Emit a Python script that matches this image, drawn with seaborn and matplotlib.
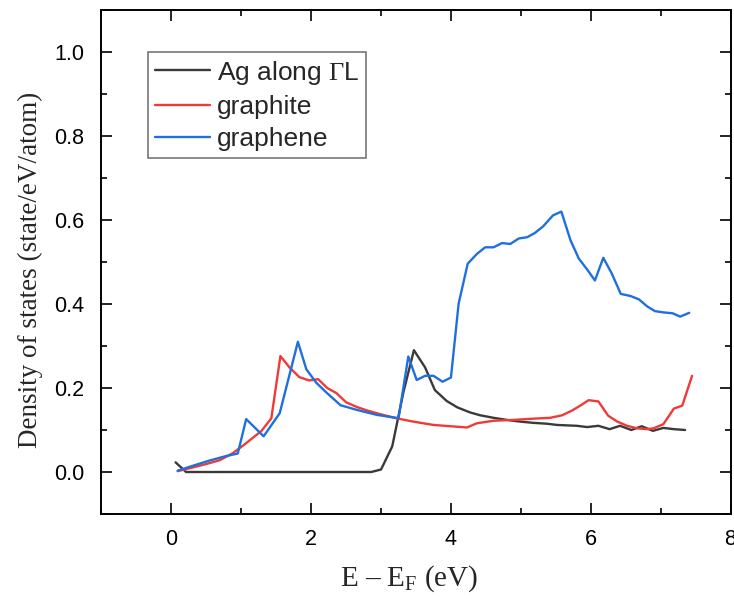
import matplotlib
matplotlib.use("Agg")
import matplotlib.pyplot as plt
import seaborn as sns
import pandas as pd
from matplotlib.ticker import MultipleLocator

ag_x = [0.06, 0.21, 0.5, 1.0, 1.5, 2.0, 2.5, 2.86, 3.0, 3.16, 3.32, 3.47, 3.63, 3.77, 3.94, 4.09,
        4.27, 4.42, 4.61, 4.80, 4.99, 5.18, 5.37, 5.52, 5.80, 5.95, 6.11, 6.27, 6.42, 6.58, 6.73,
        6.89, 7.04, 7.19, 7.35]
ag_y = [0.023, 0.0, 0.0, 0.0, 0.0, 0.0, 0.0, 0.0, 0.006, 0.061, 0.19, 0.29, 0.249, 0.195, 0.169, 0.154,
        0.142, 0.135, 0.129, 0.124, 0.120, 0.117, 0.115, 0.112, 0.110, 0.107, 0.110, 0.102, 0.110, 0.100, 0.109,
        0.098, 0.105, 0.102, 0.100]

graphite_x = [0.09, 0.31, 0.50, 0.69, 0.88, 1.05, 1.17, 1.29, 1.43, 1.56, 1.69, 1.83, 1.97, 2.10,
              2.23, 2.36, 2.50, 2.65, 2.79, 2.98, 3.22, 3.46, 3.75, 3.99, 4.23, 4.37, 4.61, 4.89,
              5.18, 5.42, 5.59, 5.73, 5.85, 5.97, 6.11, 6.25, 6.38, 6.52, 6.66, 6.81, 6.90, 7.04,
              7.19, 7.31, 7.45]
graphite_y = [0.002, 0.011, 0.019, 0.028, 0.045, 0.066, 0.082, 0.098, 0.128, 0.276, 0.249, 0.226, 0.218, 0.221,
              0.200, 0.188, 0.166, 0.155, 0.147, 0.138, 0.128, 0.120, 0.112, 0.109, 0.106, 0.116, 0.122, 0.124,
              0.127, 0.129, 0.135, 0.146, 0.158, 0.171, 0.168, 0.134, 0.120, 0.110, 0.104, 0.102, 0.104, 0.114,
              0.151, 0.158, 0.229]

graphene_x = [0.09, 0.31, 0.54, 0.76, 0.95, 1.07, 1.32, 1.55, 1.81, 1.93, 2.07, 2.22, 2.42, 2.65,
              2.94, 3.25, 3.39, 3.51, 3.63, 3.75, 3.88, 4.00, 4.11, 4.24, 4.37, 4.49, 4.61, 4.73,
              4.85, 4.97, 5.09, 5.20, 5.32, 5.46, 5.58, 5.71, 5.83, 5.95, 6.06, 6.18, 6.30, 6.43,
              6.57, 6.69, 6.81, 6.92, 7.04, 7.17, 7.28, 7.41]
graphene_y = [0.003, 0.015, 0.027, 0.037, 0.044, 0.126, 0.085, 0.140, 0.310, 0.245, 0.213, 0.189, 0.159, 0.148,
              0.136, 0.128, 0.275, 0.219, 0.229, 0.229, 0.215, 0.225, 0.401, 0.496, 0.519, 0.535, 0.535, 0.545,
              0.543, 0.556, 0.559, 0.569, 0.585, 0.611, 0.620, 0.552, 0.508, 0.482, 0.456, 0.510, 0.473, 0.424,
              0.419, 0.411, 0.394, 0.383, 0.380, 0.378, 0.370, 0.379]

labels = ["Ag along $\\mathrm{\\Gamma}$L", "graphite", "graphene"]
colors = ["#3a3a3a", "#f03a3a", "#1f6fdf"]

sns.set_style("white")
plt.rcParams["font.family"] = ["Liberation Sans", "DejaVu Sans"]
plt.rcParams["mathtext.fontset"] = "custom"
plt.rcParams["mathtext.rm"] = "Liberation Serif"
plt.rcParams["mathtext.it"] = "Liberation Serif:italic"

fig = plt.figure(figsize=(7.34, 5.99), dpi=100)
ax = fig.add_axes([101.5 / 734, 1 - 514 / 599, (730.5 - 101.5) / 734, (514 - 10) / 599])

series = [(ag_x, ag_y), (graphite_x, graphite_y), (graphene_x, graphene_y)]
for (xs, ys), lab, col in zip(series, labels, colors):
    df = pd.DataFrame({"x": xs, "y": ys})
    sns.lineplot(data=df, x="x", y="y", ax=ax, color=col, lw=1.7, sort=False,
                 estimator=None, label=lab)

ax.set_xlim(-1, 8)
ax.set_ylim(-0.1, 1.1)
ax.xaxis.set_major_locator(MultipleLocator(2))
ax.xaxis.set_minor_locator(MultipleLocator(1))
ax.yaxis.set_minor_locator(MultipleLocator(0.1))
ax.set_yticks([0.0, 0.2, 0.4, 0.6, 0.8, 1.0])
ax.set_yticklabels(["0.0", "0.2", "0.4", "0.6", "0.8", "1.0"])
ax.tick_params(which="both", direction="in", top=True, right=True, bottom=True, left=True,
               labelsize=15.5, colors="black", width=1.2)
ax.tick_params(which="major", length=8, pad=11)
ax.tick_params(axis="y", which="major", pad=12.5)
ax.tick_params(which="minor", length=4)
for sp in ax.spines.values():
    sp.set_visible(True)
    sp.set_color("black")
    sp.set_linewidth(1.4)

ax.set_xlabel("E – E$_\\mathrm{F}$ (eV)", family="Liberation Serif", fontsize=21)
ax.set_ylabel("Density of states (state/eV/atom)", family="Liberation Serif", fontsize=19.5)
ax.yaxis.set_label_coords(-0.093, 0.484)
ax.xaxis.set_label_coords(0.49, -0.098)

leg = ax.legend(loc="upper left", bbox_to_anchor=((148 - 101.5) / 629, 1 - (52 - 10) / 504),
                fontsize=19, frameon=True, fancybox=False, edgecolor="#555555",
                handlelength=2.1, handletextpad=0.25, borderpad=0.25, labelspacing=0.32,
                borderaxespad=0)
leg.get_frame().set_linewidth(1.2)

fig.savefig("out.png", dpi=100)
